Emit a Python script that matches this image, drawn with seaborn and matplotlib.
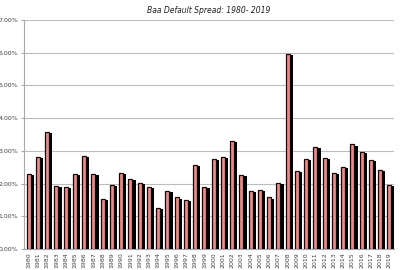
import matplotlib
matplotlib.use("Agg")
import matplotlib.pyplot as plt
import matplotlib.patheffects as pe
from matplotlib.ticker import PercentFormatter
import seaborn as sns
import pandas as pd

years = [str(y) for y in range(1980, 2020)]
spread = [2.30, 2.83, 3.59, 1.92, 1.89, 2.31, 2.86, 2.30, 1.53, 1.95,
          2.33, 2.15, 2.03, 1.90, 1.27, 1.77, 1.58, 1.50, 2.56, 1.90,
          2.77, 2.82, 3.30, 2.28, 1.79, 1.80, 1.58, 2.01, 5.96, 2.40,
          2.75, 3.13, 2.80, 2.34, 2.50, 3.20, 2.96, 2.72, 2.42, 1.95]
yticks = [0, 1, 2, 3, 4, 5, 6, 7]

df = pd.DataFrame({"year": years, "spread": spread})

sns.set_style("white")
plt.rcParams["font.family"] = ["DejaVu Sans"]

fig = plt.figure(figsize=(4.0, 2.7), dpi=100)
ax = fig.add_axes([0.06, 0.077, 0.925, 0.849])

sns.barplot(data=df, x="year", y="spread", ax=ax, color="#df9090",
            saturation=1, width=0.45, edgecolor="#1a0808", linewidth=0.9,
            zorder=3)
for p in ax.patches:
    p.set_path_effects([pe.SimplePatchShadow(offset=(2.2, -0.8),
                                             shadow_rgbFace="black", alpha=1.0),
                        pe.Normal()])

ax.set_ylim(0, 7)
ax.set_xlim(-0.5, len(years) - 0.5)
ax.set_yticks(yticks)
ax.yaxis.set_major_formatter(PercentFormatter(decimals=2))
ax.grid(axis="y", color="#bcbcbc", linewidth=0.8, zorder=0)
ax.grid(axis="x", visible=False)
for s in ["top", "right"]:
    ax.spines[s].set_visible(False)
ax.spines["left"].set_color("#a8a8a8")
ax.spines["left"].set_linewidth(0.8)
ax.spines["bottom"].set_color("#a8a8a8")
ax.spines["bottom"].set_linewidth(0.8)

ax.tick_params(axis="y", labelsize=4.5, labelcolor="#404040", length=2,
               color="#a8a8a8", pad=2, left=True)
ax.tick_params(axis="x", labelsize=4.5, labelcolor="#404040", rotation=90,
               length=0, pad=2)
ax.set_xlabel("")
ax.set_ylabel("")
ax.set_title("Baa Default Spread: 1980- 2019", fontsize=5.5, style="italic",
             color="#202020", pad=5)

fig.savefig("out.png", dpi=100)
